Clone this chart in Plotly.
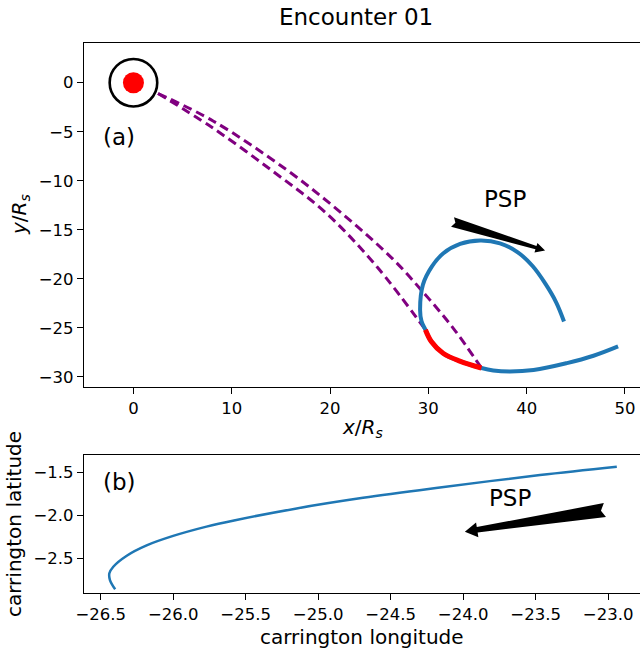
import numpy as np
import plotly.graph_objects as go

# ---------------- Panel (a): x/Rs vs y/Rs ----------------
psp_x = [49.3, 46.8, 44.1, 40.7, 38.3, 36.6, 35.4, 33.2, 31.5, 30.3, 29.7,
         29.3, 29.16, 29.45, 30.35, 31.53, 33.23, 35.26, 37.29, 39.1, 40.6, 41.9, 43.0, 43.8]
psp_y = [-26.9, -27.85, -28.6, -29.3, -29.45, -29.35, -29.1, -28.4, -27.6, -26.4, -25.2,
         -24.3, -23.2, -20.6, -18.76, -17.4, -16.45, -16.1, -16.38, -17.3, -18.7, -20.5, -22.4, -24.36]

red_x = [35.4, 33.2, 31.5, 30.3, 29.7]
red_y = [-29.1, -28.4, -27.6, -26.4, -25.2]

fl1_x = [2.5, 7.9, 14.0, 19.6, 24.75, 29.7]
fl1_y = [-1.1, -4.5, -8.9, -13.3, -18.75, -25.2]
fl2_x = [2.5, 8.1, 15.6, 21.4, 26.4, 29.5, 32.5, 35.4]
fl2_y = [-1.1, -3.9, -8.9, -13.5, -18.0, -21.4, -25.0, -29.1]

sun_center = (0.0, 0.0)
sun_r = 1.07
ring_r = 2.42

arrow_a_tail = (32.46, -14.2)
arrow_a_head = (41.87, -17.11)
label_a_psp = (37.8, -11.9)

# ---------------- Panel (b): carrington lon / lat ----------------
lon = [-26.40, -26.436, -26.44, -26.413, -26.32, -26.183, -26.0, -25.77,
       -25.58, -25.148, -24.69, -24.16, -23.47, -22.94]
lat = [-2.856, -2.748, -2.67, -2.593, -2.465, -2.345, -2.235, -2.127,
       -2.055, -1.915, -1.792, -1.672, -1.527, -1.43]

arrow_b_tail = (-23.022, -1.934)
arrow_b_head = (-23.988, -2.186)
label_b_psp = (-23.68, -1.795)

xt_a = [0, 10, 20, 30, 40, 50]
yt_a = [0, -5, -10, -15, -20, -25, -30]
xt_b = [-26.5, -26.0, -25.5, -25.0, -24.5, -24.0, -23.5, -23.0]
yt_b = [-1.5, -2.0, -2.5]

def fmt(v, nd):
    s = f"{abs(v):.{nd}f}"
    return ("\u2212" + s) if v < 0 else s

# ---------------- layout geometry ----------------
W, H = 640, 650
ML, MR, MT, MB = 84, 0, 43, 57
PW = W - ML - MR
PH = H - MT - MB
dom_a = [0.3745, 1.0]
dom_b = [0.0, 0.2509]
xr_a = [-5.03, 51.53]
yr_a = [-31.04, 4.05]
xr_b = [-26.615, -22.78]
yr_b = [-2.899, -1.294]

def make_conv(xr, yr, dom):
    def to_px(x, y):
        fx = (x - xr[0]) / (xr[1] - xr[0])
        fy = dom[0] + (y - yr[0]) / (yr[1] - yr[0]) * (dom[1] - dom[0])
        return np.array([ML + fx * PW, MT + (1 - fy) * PH])
    def to_data(px, py):
        fx = (px - ML) / PW
        fy = 1 - (py - MT) / PH
        x = xr[0] + fx * (xr[1] - xr[0])
        y = yr[0] + (fy - dom[0]) / (dom[1] - dom[0]) * (yr[1] - yr[0])
        return x, y
    return to_px, to_data

def arrow_poly(tail, head, conv, wt, ws, wh, lh, nd):
    to_px, to_data = conv
    T = to_px(*tail)
    Hd = to_px(*head)
    d = Hd - T
    L = np.hypot(*d)
    u = d / L
    n = np.array([-u[1], u[0]])
    B = T + (L - lh) * u
    pts = [T + wt * n, B + ws * n, B + wh * n, Hd, B - wh * n, B - ws * n,
           T - wt * n, T + nd * u, T + wt * n]
    xs, ys = zip(*[to_data(*p) for p in pts])
    return list(xs), list(ys)

conv_a = make_conv(xr_a, yr_a, dom_a)
conv_b = make_conv(xr_b, yr_b, dom_b)

def pap(px, py):
    return (px - ML) / PW, 1 - (py - MT) / PH

BLUE = "#1f77b4"
fig = go.Figure()

# field lines
for fx, fy in [(fl1_x, fl1_y), (fl2_x, fl2_y)]:
    fig.add_trace(go.Scatter(x=fx, y=fy, mode="lines", xaxis="x", yaxis="y",
                             line=dict(color="purple", width=3, dash="9px,5px", shape="spline"),
                             hoverinfo="skip"))
# PSP path
fig.add_trace(go.Scatter(x=psp_x, y=psp_y, mode="lines", xaxis="x", yaxis="y",
                         line=dict(color=BLUE, width=4, shape="spline", smoothing=1.1), hoverinfo="skip"))
fig.add_trace(go.Scatter(x=red_x, y=red_y, mode="lines", xaxis="x", yaxis="y",
                         line=dict(color="red", width=5, shape="spline"), hoverinfo="skip"))
# arrow (a)
ax_, ay_ = arrow_poly(arrow_a_tail, arrow_a_head, conv_a, wt=5.0, ws=1.8, wh=5.0, lh=9.5, nd=3.0)
fig.add_trace(go.Scatter(x=ax_, y=ay_, mode="lines", fill="toself", fillcolor="black",
                         line=dict(width=0, color="black"), xaxis="x", yaxis="y", hoverinfo="skip"))

# panel (b)
fig.add_trace(go.Scatter(x=lon, y=lat, mode="lines", xaxis="x2", yaxis="y2",
                         line=dict(color=BLUE, width=2.5, shape="spline"), hoverinfo="skip"))
bx_, by_ = arrow_poly(arrow_b_tail, arrow_b_head, conv_b, wt=7.0, ws=2.8, wh=7.5, lh=12.5, nd=4.0)
fig.add_trace(go.Scatter(x=bx_, y=by_, mode="lines", fill="toself", fillcolor="black",
                         line=dict(width=0, color="black"), xaxis="x2", yaxis="y2", hoverinfo="skip"))

shapes = [
    dict(type="circle", xref="x", yref="y", x0=sun_center[0] - sun_r, x1=sun_center[0] + sun_r,
         y0=sun_center[1] - sun_r, y1=sun_center[1] + sun_r, fillcolor="red", line=dict(width=0)),
    dict(type="circle", xref="x", yref="y", x0=sun_center[0] - ring_r, x1=sun_center[0] + ring_r,
         y0=sun_center[1] - ring_r, y1=sun_center[1] + ring_r, line=dict(color="black", width=2.6)),
]

FONT = "DejaVu Sans"
def ann(text, px, py, size, angle=0, xanchor="center"):
    x, y = pap(px, py)
    return dict(text=text, x=x, y=y, xref="paper", yref="paper", showarrow=False,
                xanchor=xanchor, yanchor="middle", textangle=angle,
                font=dict(family=FONT, size=size, color="black"))

annotations = [
    ann("Encounter 01", 356, 17, 23),
    ann("<i>y</i>/<i>R<sub>s</sub></i>", 20, 215, 20, angle=-90),
    ann("<i>x</i>/<i>R<sub>s</sub></i>", 362, 428, 20),
    ann("carrington latitude", 14, 524, 20, angle=-90),
    ann("carrington longitude", 362, 637, 20),
    ann("(a)", 119, 137, 23),
    ann("(b)", 119, 482, 23),
]
pa = conv_a[0](*label_a_psp)
pb = conv_b[0](*label_b_psp)
annotations.append(ann("PSP", pa[0], pa[1], 23))
annotations.append(ann("PSP", pb[0], pb[1], 23))

axis_common = dict(showgrid=False, zeroline=False, showline=True, linecolor="black", linewidth=1.3,
                   ticks="outside", ticklen=6, tickwidth=1.3, tickcolor="black",
                   tickfont=dict(family=FONT, size=16.5, color="black"))

fig.update_layout(
    width=W, height=H, margin=dict(l=ML, r=MR, t=MT, b=MB),
    paper_bgcolor="white", plot_bgcolor="white", showlegend=False,
    xaxis=dict(domain=[0, 1], range=xr_a, anchor="y", tickvals=xt_a,
               ticktext=[fmt(v, 0) for v in xt_a], mirror=True, **axis_common),
    yaxis=dict(domain=dom_a, range=yr_a, anchor="x", tickvals=yt_a,
               ticktext=[fmt(v, 0) for v in yt_a], **axis_common),
    xaxis2=dict(domain=[0, 1], range=xr_b, anchor="y2", tickvals=xt_b,
                ticktext=[fmt(v, 1) for v in xt_b], mirror=True, **axis_common),
    yaxis2=dict(domain=dom_b, range=yr_b, anchor="x2", tickvals=yt_b,
                ticktext=[fmt(v, 1) for v in yt_b], **axis_common),
    shapes=shapes, annotations=annotations,
)

fig.write_html("out.html")
